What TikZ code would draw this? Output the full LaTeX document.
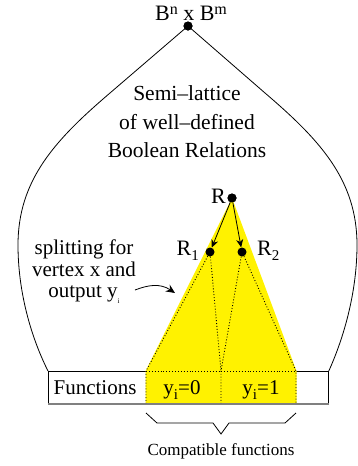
\documentclass[tikz,border=0pt]{standalone}
\usepackage{fontspec}
\setmainfont{Liberation Serif}
\usetikzlibrary{arrows.meta}
\newcommand\mysup[1]{\raisebox{6pt}{\fontsize{16}{16}\selectfont #1}}
\newcommand\mysub[1]{\raisebox{-5pt}{\fontsize{15}{15}\selectfont #1}}
\begin{document}
\begin{tikzpicture}[x=1pt,y=-1pt,
  dot/.style={circle,fill=black,inner sep=0pt,minimum size=9pt},
  lbl/.style={inner sep=0pt,font=\fontsize{21}{25}\selectfont},
  dotline/.style={dotted,line width=0.9pt},
  outline/.style={line width=0.8pt},
  arr/.style={-{Stealth[length=8pt,width=7pt]},line width=0.8pt}]
\useasboundingbox (0,0) rectangle (358,466);
% box
\node[draw,line width=0.8pt,minimum width=280pt,minimum height=32pt,inner sep=0pt,anchor=north west] (fbox) at (48,371) {};
% dots
\node[dot] (top) at (188,26) {};
\node[dot] (R) at (232,198) {};
\node[dot] (R1) at (210,252) {};
\node[dot] (R2) at (242,252) {};
% yellow region
\coordinate (bl) at (146,371);
\coordinate (bm) at (221,371);
\coordinate (br) at (296,371);
\coordinate (bbl) at (146,403);
\coordinate (bbm) at (221,403);
\coordinate (bbr) at (296,403);
\fill[yellow] (R.center) -- (145.5,371) -- (145.5,403) -- (296.5,403) -- (296.5,371) -- cycle;
\draw[gray,line width=1.6pt] (fbox.south west) -- (fbox.south east);
% outline
\draw[outline] (fbox.north west) .. controls (30,335) and (18,290) .. (18,245)
  .. controls (18,180) and (55,140) .. (110,93) -- (top.center) -- (265,93)
  .. controls (320,140) and (357,180) .. (357,245)
  .. controls (357,290) and (345,335) .. (fbox.north east);
% dotted lines
\draw[dotline] (R1) -- (bl) -- (bbl);
\draw[dotline] (R1) -- (bm);
\draw[dotline] (R2) -- (bm) -- (bbm);
\draw[dotline] (R2) -- (br) -- (bbr);
\draw[dotline] (bl) -- (br);
% redraw dots on top
\node[dot] at (top) {};
\node[dot] at (R) {};
\node[dot] at (R1) {};
\node[dot] at (R2) {};
% arrows
\draw[arr] (R) -- (R1);
\draw[arr] (R) -- (R2);
% curved arrow
\coordinate (ca) at (135,290);
\coordinate (cb) at (175,293);
\draw[-{Stealth[length=9pt,width=8pt]},line width=0.8pt] (ca) .. controls (148,285) and (160,283) .. (cb);
% brace
\coordinate (b1) at (146,413);
\coordinate (b2) at (157,423);
\coordinate (b3) at (213,423);
\coordinate (b4) at (221,434);
\coordinate (b5) at (229,423);
\coordinate (b6) at (285,423);
\coordinate (b7) at (296,413);
\draw[line width=0.8pt] (b1) -- (b2) -- (b3) -- (b4) -- (b5) -- (b6) -- (b7);
% labels
\node[inner sep=0pt,font=\fontsize{22}{25}\selectfont,anchor=base] (tl) at (191,20) {B\mysup{n} x B\mysup{m}};
\node[inner sep=0pt,align=center,font=\fontsize{21.5}{28.5}\selectfont] (semi) at (187,122) {Semi–lattice\\of well–defined\\Boolean Relations};
\node[inner sep=0pt,font=\fontsize{22}{25}\selectfont,anchor=base east] (rl) at (226,203) {R};
\node[inner sep=0pt,font=\fontsize{22}{25}\selectfont,anchor=base east] (r1l) at (199,255) {R\mysub{1}};
\node[inner sep=0pt,font=\fontsize{22}{25}\selectfont,anchor=base west] (r2l) at (257,255) {R\mysub{2}};
\node[inner sep=0pt,align=center,font=\fontsize{21}{21.5}\selectfont] (split) at (84,272) {splitting for\\vertex x and\\output y\raisebox{-6pt}{\fontsize{7}{7}\selectfont i}};
\node[lbl,anchor=base] (fn) at (95,394) {Functions};
\node[lbl,anchor=base] (y0) at (182,394) {y\mysub{i}=0};
\node[lbl,anchor=base] (y1) at (261,394) {y\mysub{i}=1};
\node[inner sep=0pt,font=\fontsize{17}{20}\selectfont] (compat) at (221,451) {Compatible functions};
\end{tikzpicture}
\end{document}
